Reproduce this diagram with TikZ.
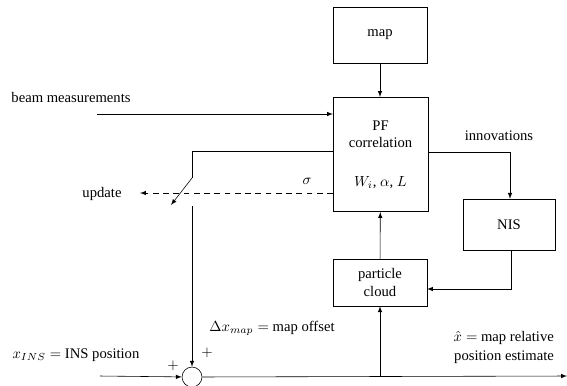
\documentclass[tikz,border=0pt]{standalone}
\usepackage{fontspec}
\setmainfont{Liberation Serif}
\usetikzlibrary{shapes,positioning,arrows,calc}

\begin{document}
\begin{tikzpicture}[x=0.24mm, y=-0.24mm, >=latex,
  block/.style={draw, rectangle, align=center, inner sep=2pt}]
\useasboundingbox (0,0) rectangle (567,385);
% filter blocks
\node[block, minimum width=63.9pt, minimum height=38.1pt] (map) at (380,35) {map};
\node[block, minimum width=64.6pt, minimum height=78.2pt] (pf) at (380.5,154.5) {PF\\correlation\\[14pt]$W_i$, $\alpha$, $L$};
\node[block, minimum width=62.6pt, minimum height=34.7pt] (nis) at (509,224.5) {NIS};
\node[block, minimum width=63.9pt, minimum height=32pt] (cloud) at (380,282.5) {particle\\cloud};
\node[draw, circle, minimum size=13.6pt, inner sep=0pt] (sum) at (192,377) {};

% free ends and corners
\coordinate (beam) at (97,114);
\coordinate (fb) at (192,151);
\coordinate (sw1) at (192,178);
\coordinate (sw2) at (171,205);
\coordinate (sw3) at (192,206);
\coordinate (upd) at (140,193);
\coordinate (inn) at (510,152);
\coordinate (nc) at (511,289);
\coordinate (inp) at (100,376);
\coordinate (out) at (567,376);

\draw[->] (map) -- (map.south |- pf.north);
\draw[->] (beam) -- (beam -| pf.west);
\draw (fb -| pf.west) -- (fb) -- (sw1);
\draw[->] (sw1) -- (sw2);
\draw[->] (sw3) -- (sum);
\draw[->, dash pattern=on 4pt off 3pt] (upd -| pf.west) -- (upd);
\draw[->] (inn -| pf.east) -- (inn) -- (inn |- nis.north);
\draw[->] (nis.south -| nc) -- (nc) -- (nc -| cloud.east);
\draw[->] (cloud) -- (pf);
\draw[->] (inp) -- (sum);
\draw[->] (sum) -- (out);
\draw[->] (sum -| cloud) -- (cloud);

% labels
\node (beamlbl) at (71,97) {beam measurements};
\node (updlbl) at (102,194) {update};
\node (sigma) at (307,181) {$\sigma$};
\node (innlbl) at (499,136) {innovations};
\node (plus1) at (173,366) {$+$};
\node (plus2) at (207,353) {$+$};
\node (inslbl) at (76,355) {$x_{INS} =$ INS position};
\node (offlbl) at (272,328) {$\Delta x_{map} =$ map offset};
\node[align=right, anchor=east] (estlbl) at (559,347) {$\hat{x} =$ map relative\\[1pt]position estimate};
\end{tikzpicture}
\end{document}
